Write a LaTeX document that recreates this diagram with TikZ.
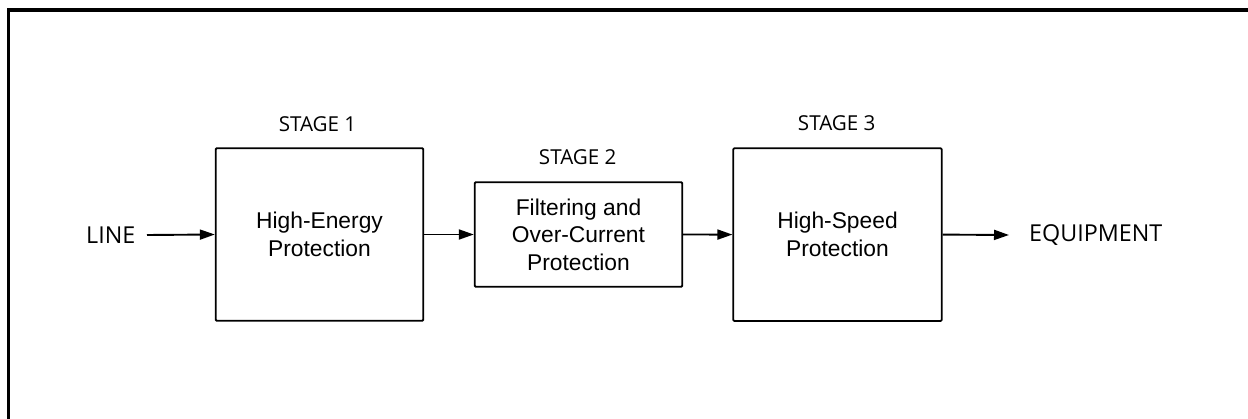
\documentclass[tikz,border=0pt]{standalone}
\usepackage{fontspec}
\setmainfont{Liberation Sans}
\newfontfamily\labelfont{Open Sans}
\usetikzlibrary{arrows.meta}
\begin{document}
\begin{tikzpicture}[x=1pt,y=-1pt,
  blockbox/.style={draw,line width=1.8pt,rounded corners=1pt,inner sep=0pt,align=center,
    font=\fontsize{22.8}{27.5}\selectfont},
  stagelabel/.style={font=\labelfont\fontsize{20.6}{24}\selectfont,inner sep=0pt},
  endlabel/.style={font=\labelfont\fontsize{23.3}{28}\selectfont,inner sep=0pt},
  flow/.style={line width=1.9pt,-{Triangle[length=15pt,width=10pt]}}]
\useasboundingbox (0,0) rectangle (1248,419);
\fill[white] (0,0) rectangle (1248,419);
\draw[line width=3.6pt] (8.5,419) -- (8.5,10) -- (1248,10);
\node[blockbox,minimum width=207.6pt,minimum height=172.4pt] (s1) at (319.5,234.5) {High-Energy\\Protection};
\node[blockbox,minimum width=207.6pt,minimum height=104.4pt] (s2) at (578.5,234.5) {Filtering and\\Over-Current\\Protection};
\node[blockbox,minimum width=208.4pt,minimum height=172.7pt] (s3) at (837.5,234.6) {High-Speed\\Protection};
\node[stagelabel] (t1) at (317.5,124) {STAGE 1};
\node[stagelabel] (t2) at (577.7,157.3) {STAGE 2};
\node[stagelabel] (t3) at (836.7,122.7) {STAGE 3};
\node[endlabel,anchor=west] (line) at (86,235) {LINE};
\node[endlabel,anchor=west] (equip) at (1029,235) {EQUIPMENT};
\coordinate (lineend) at (147,235);
\coordinate (equipend) at (1009,235);
\draw[flow] (lineend) -- (s1.west);
\draw[flow] (s1.east) -- (s2.west);
\draw[flow] (s2.east) -- (s3.west);
\draw[flow] (s3.east) -- (equipend);
\end{tikzpicture}
\end{document}
